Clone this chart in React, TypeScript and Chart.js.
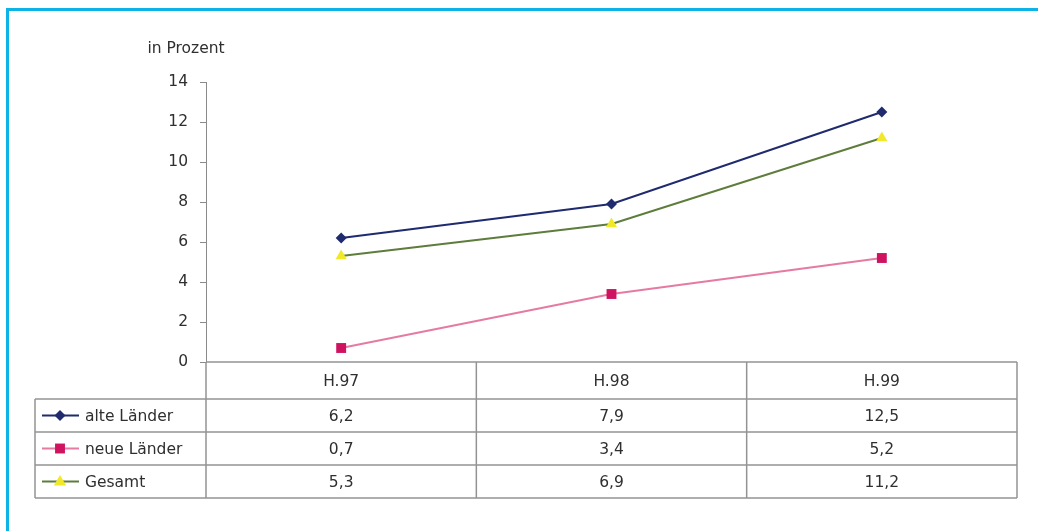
import React, { useEffect, useRef } from "react";
import { Chart, registerables } from "chart.js";

Chart.register(...registerables);

// Half-year categories and the three series (percent)
const categories = ["H.97", "H.98", "H.99"];
const alteLaender = [6.2, 7.9, 12.5];
const neueLaender = [0.7, 3.4, 5.2];
const gesamt = [5.3, 6.9, 11.2];
const seriesNames = ["alte Länder", "neue Länder", "Gesamt"];
const yTicks = [0, 2, 4, 6, 8, 10, 12, 14];
const axisTitle = "in Prozent";

const W = 1038;
const H = 531;
const FONT = '15.5px "DejaVu Sans", sans-serif';
const TEXT = "#2f2f2f";
const RULE = "#939393";
const FRAME = "#0db2e6";

const fmt = (v: number) => v.toFixed(1).replace(".", ",");

function drawMarker(ctx: CanvasRenderingContext2D, style: string, x: number, y: number, r: number, fill: string) {
  ctx.save();
  ctx.fillStyle = fill;
  ctx.beginPath();
  if (style === "rectRot") {
    ctx.moveTo(x, y - r);
    ctx.lineTo(x + r, y);
    ctx.lineTo(x, y + r);
    ctx.lineTo(x - r, y);
  } else if (style === "rect") {
    const s = r * Math.SQRT1_2;
    ctx.rect(x - s, y - s, 2 * s, 2 * s);
  } else {
    ctx.moveTo(x, y - r);
    ctx.lineTo(x + r * 0.95, y + r * 0.6);
    ctx.lineTo(x - r * 0.95, y + r * 0.6);
  }
  ctx.closePath();
  ctx.fill();
  ctx.restore();
}

// Frame, axis caption and the data table under the plot
const tablePlugin = {
  id: "dataTable",
  afterDraw(chart: any) {
    const ctx: CanvasRenderingContext2D = chart.ctx;
    const xs = chart.scales.x;
    const area = chart.chartArea;
    const n = categories.length;
    const band = (xs.right - xs.left) / n;
    const top = area.bottom;
    const headerH = 37;
    const rowH = 33;
    const legendLeft = 35;
    const rows = chart.data.datasets.length;
    const bottom = top + headerH + rowH * rows;

    ctx.save();
    // frame on top and left
    ctx.fillStyle = FRAME;
    ctx.fillRect(6, 8, W - 6, 3);
    ctx.fillRect(6, 8, 3, H - 8);

    // caption above the value axis
    ctx.font = FONT;
    ctx.fillStyle = TEXT;
    ctx.textAlign = "center";
    ctx.textBaseline = "middle";
    ctx.fillText(axisTitle, 186, 49);

    // table rules
    ctx.strokeStyle = RULE;
    ctx.lineWidth = 1.5;
    const line = (x1: number, y1: number, x2: number, y2: number) => {
      ctx.beginPath();
      ctx.moveTo(x1, y1);
      ctx.lineTo(x2, y2);
      ctx.stroke();
    };
    line(xs.left, top, xs.right, top);
    for (let r = 0; r <= rows; r++) {
      const y = top + headerH + r * rowH;
      line(legendLeft, y, xs.right, y);
    }
    line(legendLeft, top + headerH, legendLeft, bottom);
    for (let i = 0; i <= n; i++) {
      const x = xs.left + i * band;
      line(x, top, x, bottom);
    }

    // header and values
    ctx.fillStyle = TEXT;
    ctx.textAlign = "center";
    categories.forEach((c, i) => {
      const cx = xs.getPixelForValue(i);
      ctx.fillText(c, cx, top + headerH / 2 + 1);
    });
    chart.data.datasets.forEach((ds: any, r: number) => {
      const cy = top + headerH + r * rowH + rowH / 2 + 1;
      ds.data.forEach((v: number, i: number) => {
        ctx.fillStyle = TEXT;
        ctx.textAlign = "center";
        ctx.fillText(fmt(v), xs.getPixelForValue(i), cy);
      });
      // legend key
      ctx.strokeStyle = ds.borderColor;
      ctx.lineWidth = 1.8;
      line(42, cy - 1, 79, cy - 1);
      drawMarker(ctx, ds.pointStyle, 60, cy - 1, ds.pointRadius, ds.pointBackgroundColor);
      ctx.fillStyle = TEXT;
      ctx.textAlign = "left";
      ctx.fillText(ds.label, 85, cy);
    });
    ctx.restore();
  },
};

export default function App() {
  const ref = useRef<HTMLCanvasElement>(null);

  useEffect(() => {
    if (!ref.current) return;
    const chart = new Chart(ref.current, {
      type: "line",
      data: {
        labels: categories,
        datasets: [
          {
            label: seriesNames[0],
            data: alteLaender,
            borderColor: "#1f2b6e",
            backgroundColor: "#1f2b6e",
            pointBackgroundColor: "#1f2b6e",
            pointBorderWidth: 0,
            pointStyle: "rectRot",
            pointRadius: 5.5,
            borderWidth: 2,
          },
          {
            label: seriesNames[1],
            data: neueLaender,
            borderColor: "#e57aa2",
            backgroundColor: "#cf1360",
            pointBackgroundColor: "#cf1360",
            pointBorderWidth: 0,
            pointStyle: "rect",
            pointRadius: 7,
            borderWidth: 2,
          },
          {
            label: seriesNames[2],
            data: gesamt,
            borderColor: "#5e7d3c",
            backgroundColor: "#f2e82a",
            pointBackgroundColor: "#f2e82a",
            pointBorderWidth: 0,
            pointStyle: "triangle",
            pointRadius: 6.5,
            borderWidth: 2,
          },
        ],
      },
      options: {
        responsive: false,
        animation: false,
        layout: { padding: { left: 0, top: 82, right: W - 1017, bottom: H - 362 } },
        plugins: {
          legend: { display: false },
          tooltip: { enabled: false },
          title: { display: false },
        },
        scales: {
          x: {
            type: "category",
            display: false,
            offset: true,
          },
          y: {
            min: 0,
            max: 14,
            afterFit: (scale: any) => {
              scale.width = 206;
            },
            afterBuildTicks: (scale: any) => {
              scale.ticks = yTicks.map((v) => ({ value: v }));
            },
            grid: {
              display: true,
              drawOnChartArea: false,
              drawTicks: true,
              tickLength: 6,
              color: "#8a8a8a",
            },
            border: { display: true, color: "#8a8a8a", width: 1 },
            ticks: {
              padding: 12,
              color: TEXT,
              font: { family: '"DejaVu Sans", sans-serif', size: 15.5 },
            },
          },
        },
      },
      plugins: [tablePlugin],
    });
    return () => chart.destroy();
  }, []);

  return (
    <div style={{ position: "absolute", left: 0, top: 0, width: W, height: H, background: "#fff" }}>
      <canvas ref={ref} width={W} height={H} style={{ display: "block" }} />
    </div>
  );
}
